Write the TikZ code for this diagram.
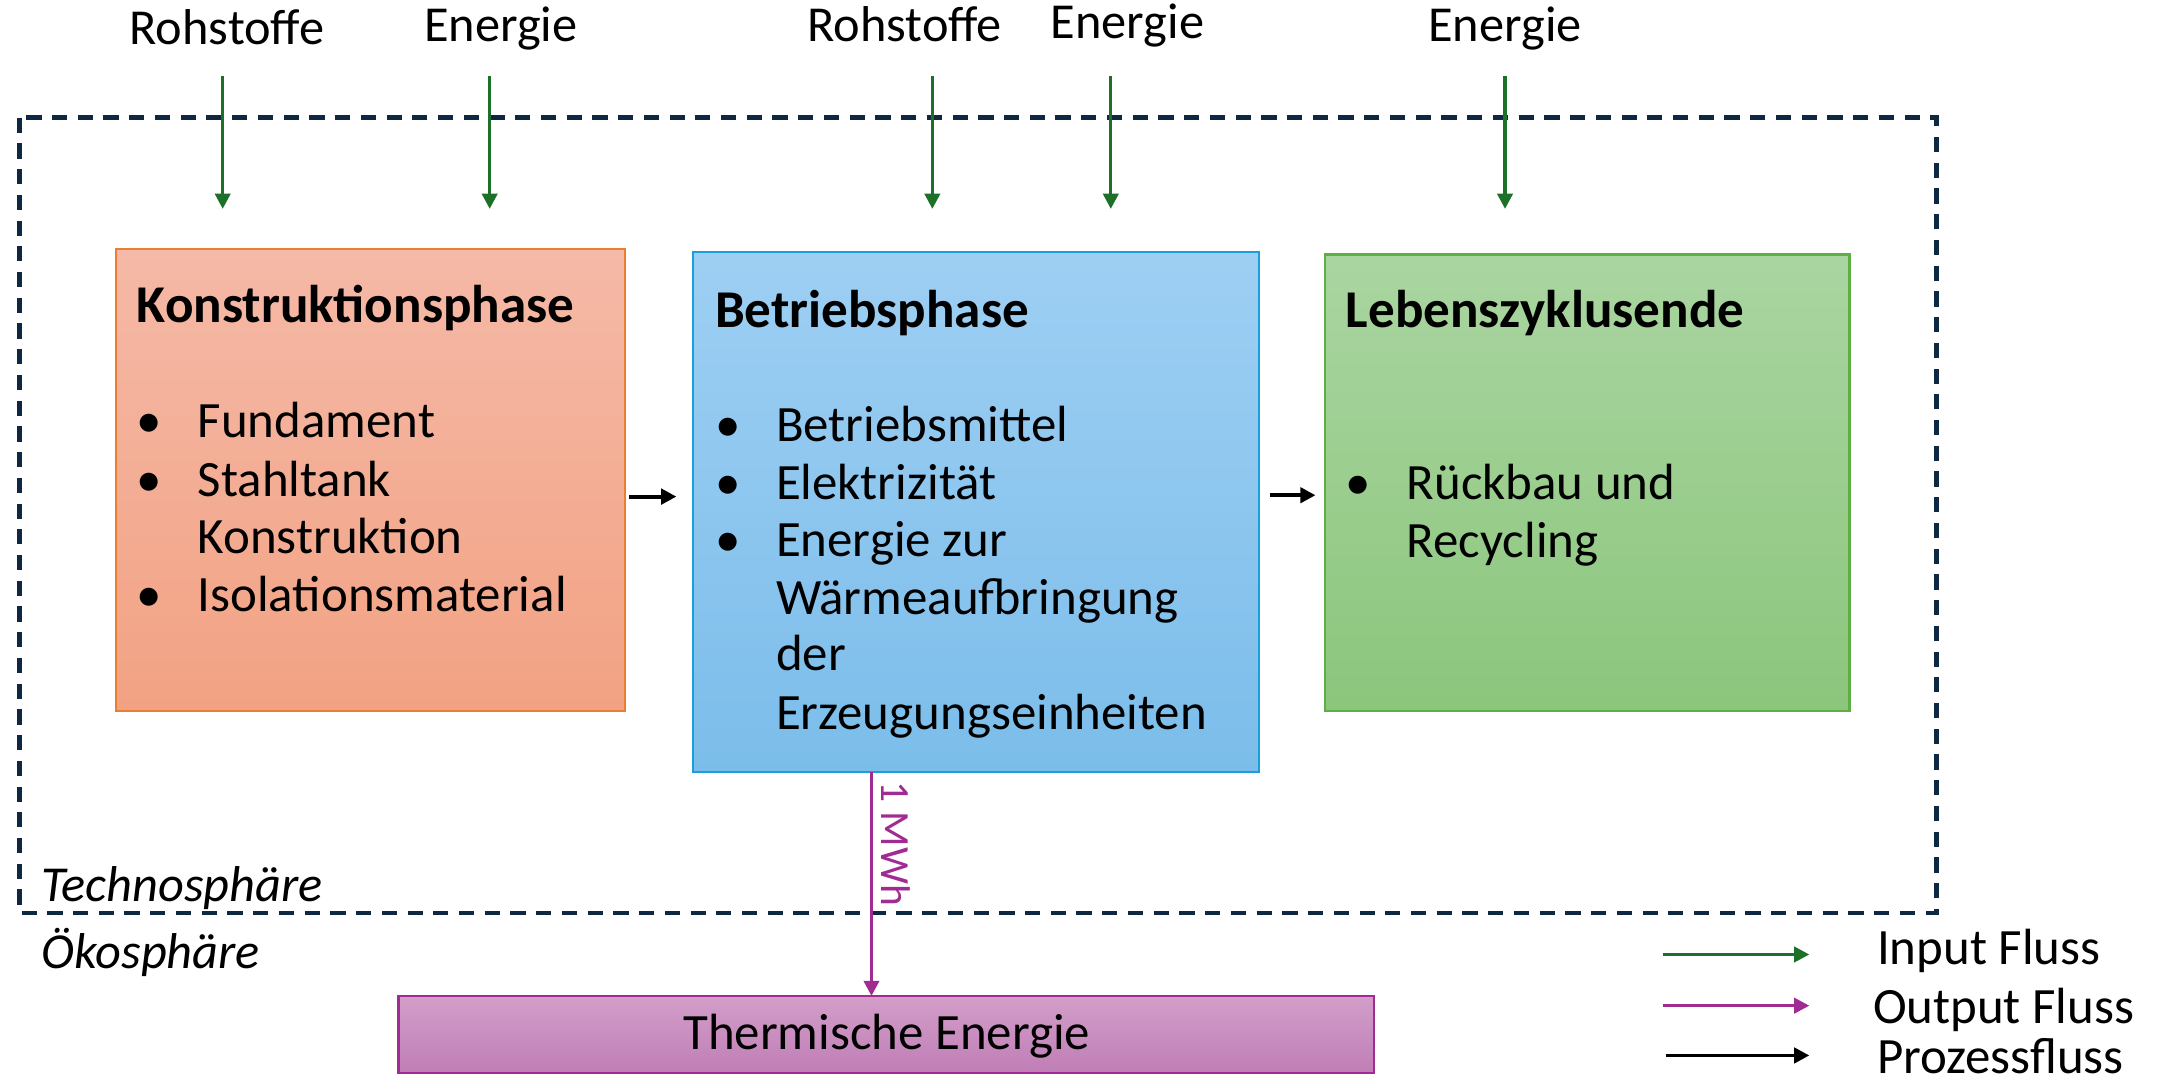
\documentclass[tikz,border=0pt]{standalone}
\usepackage{fontspec}
\setmainfont{Carlito}
\usetikzlibrary{arrows.meta}

\definecolor{orTop}{HTML}{F5B9A7}
\definecolor{orBot}{HTML}{F2A283}
\definecolor{orLine}{HTML}{ED7D31}
\definecolor{blTop}{HTML}{9ECFF3}
\definecolor{blBot}{HTML}{7BBDEA}
\definecolor{blLine}{HTML}{1A9FDB}
\definecolor{grTop}{HTML}{AAD5A1}
\definecolor{grBot}{HTML}{8BC67C}
\definecolor{grLine}{HTML}{5FAE45}
\definecolor{puTop}{HTML}{D29EC9}
\definecolor{puBot}{HTML}{C07EB6}
\definecolor{puLine}{HTML}{A02B93}
\definecolor{inGreen}{HTML}{1D7027}
\definecolor{outPurple}{HTML}{A02B93}
\definecolor{sphere}{HTML}{0E2841}

\newcommand{\bul}[1]{\makebox[22pt][l]{•}#1}

\begin{document}
\begin{tikzpicture}[x=0.5pt,y=-0.5pt,
  every node/.style={inner sep=0pt, outer sep=0pt},
  txt/.style={anchor=base west, font=\fontsize{18.4pt}{21pt}\selectfont},
  head/.style={txt, font=\fontsize{19.2pt}{21pt}\selectfont\bfseries},
  toplabel/.style={anchor=base, font=\fontsize{18.2pt}{21pt}\selectfont},
  phasebox/.style={draw, line width=0.8pt, anchor=north west},
  inflow/.style={draw=inGreen, line width=1.2pt, -{Triangle[length=5.5pt,width=5.5pt]}},
  outflow/.style={draw=outPurple, line width=1.2pt, -{Triangle[length=5.5pt,width=5.5pt]}},
  procflow/.style={draw=black, line width=1.4pt, -{Triangle[length=5.5pt,width=5.5pt]}},
  boundary/.style={draw=sphere, line width=1.6pt, dash pattern=on 5.5pt off 3.8pt}]

\useasboundingbox (0,0) rectangle (1568,777);

% system boundary of the technosphere
\draw[boundary] (14,85) rectangle (1400,660);

% life-cycle phases
\node[phasebox, draw=orLine, top color=orTop, bottom color=orBot,
      minimum width=184pt, minimum height=167pt] (bau) at (84,180) {};
\node[phasebox, draw=blLine, top color=blTop, bottom color=blBot,
      minimum width=204.5pt, minimum height=188pt] (betrieb) at (501,182) {};
\node[phasebox, draw=grLine, top color=grTop, bottom color=grBot,
      minimum width=189.5pt, minimum height=165pt] (ende) at (958,184) {};
\node[phasebox, draw=puLine, top color=puTop, bottom color=puBot,
      minimum width=352.5pt, minimum height=27.8pt] (thermo) at (288,720) {};

% construction phase
\node[head] (bauT) at (99,233) {Konstruktionsphase};
\node[txt] (bau1) at (99,316) {\bul{Fundament}};
\node[txt] (bau2) at (99,359) {\bul{Stahltank}};
\node[txt] (bau2b) at (143,400) {Konstruktion};
\node[txt] (bau3) at (99,442) {\bul{Isolationsmaterial}};

% operation phase
\node[head] (betT) at (517,237) {Betriebsphase};
\node[txt] (bet1) at (517,319) {\bul{Betriebsmittel}};
\node[txt] (bet2) at (517,361) {\bul{Elektrizität}};
\node[txt] (bet3) at (517,402) {\bul{Energie zur}};
\node[txt] (bet3b) at (561,444) {Wärmeaufbringung};
\node[txt] (bet3c) at (561,485) {der};
\node[txt] (bet3d) at (561,527) {Erzeugungseinheiten};

% end of life
\node[head] (endT) at (973,237) {Lebenszyklusende};
\node[txt] (end1) at (973,361) {\bul{Rückbau und}};
\node[txt] (end1b) at (1017,403) {Recycling};

\node[txt] (thermoT) at (494,759) {Thermische Energie};

% inputs from the ecosphere
\node[toplabel] (in1) at (164,32) {Rohstoffe};
\node[toplabel] (in2) at (362,30) {Energie};
\node[toplabel] (in3) at (654,30) {Rohstoffe};
\node[toplabel] (in4) at (815,28) {Energie};
\node[toplabel] (in5) at (1088,30) {Energie};

\coordinate (a1s) at (161,55);  \coordinate (a1e) at (161,151);
\coordinate (a2s) at (354,55);  \coordinate (a2e) at (354,151);
\coordinate (a3s) at (674,55);  \coordinate (a3e) at (674,151);
\coordinate (a4s) at (803,55);  \coordinate (a4e) at (803,151);
\coordinate (a5s) at (1088,55); \coordinate (a5e) at (1088,151);
\draw[inflow] (a1s) -- (a1e);
\draw[inflow] (a2s) -- (a2e);
\draw[inflow] (a3s) -- (a3e);
\draw[inflow] (a4s) -- (a4e);
\draw[inflow] (a5s) -- (a5e);

% process flow between phases
\coordinate (p1s) at (455,359); \coordinate (p1e) at (489,359);
\coordinate (p2s) at (918,358); \coordinate (p2e) at (951,358);
\draw[procflow] (p1s) -- (p1e);
\draw[procflow] (p2s) -- (p2e);

% output flow with its quantity written along it
\coordinate (o1s) at (630,558);
\draw[outflow] (o1s) -- (thermo.north -| o1s);
\node[rotate=-90, text=outPurple, font=\fontsize{15pt}{18pt}\selectfont]
  (mwh) at (648,610) {1 MWh};

% sphere labels
\node[txt, font=\fontsize{18.2pt}{21pt}\selectfont\itshape] (tech) at (30,652) {Technosphäre};
\node[txt, font=\fontsize{18.2pt}{21pt}\selectfont\itshape] (oeko) at (30,700) {Ökosphäre};

% legend
\coordinate (l1s) at (1202,690); \coordinate (l1e) at (1308,690);
\coordinate (l2s) at (1202,727); \coordinate (l2e) at (1308,727);
\coordinate (l3s) at (1204,763); \coordinate (l3e) at (1308,763);
\draw[inflow] (l1s) -- (l1e);
\draw[outflow] (l2s) -- (l2e);
\draw[procflow] (l3s) -- (l3e);
\node[txt] (leg1) at (1357,697) {Input Fluss};
\node[txt] (leg2) at (1354,740) {Output Fluss};
\node[txt] (leg3) at (1357,776) {Prozessfluss};
\end{tikzpicture}
\end{document}
